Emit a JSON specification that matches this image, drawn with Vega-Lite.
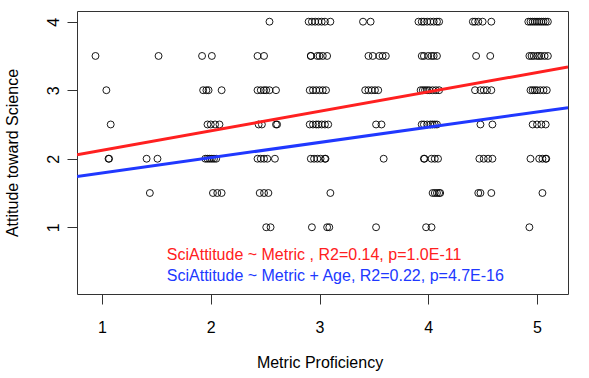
{
  "$schema": "https://vega.github.io/schema/vega-lite/v6.json",
  "width": 491,
  "height": 283,
  "autosize": {"type": "none"},
  "padding": {"left": 77, "top": 11, "right": 21, "bottom": 84},
  "background": "white",
  "config": {
    "font": "Liberation Sans",
    "view": {"stroke": "#333333", "strokeWidth": 1},
    "axis": {
      "grid": false,
      "domain": false,
      "tickColor": "#333333",
      "tickSize": 10,
      "tickWidth": 1,
      "labelFont": "Liberation Sans",
      "labelFontSize": 16,
      "labelColor": "#000000",
      "titleFont": "Liberation Sans",
      "titleFontSize": 16,
      "titleFontWeight": "normal",
      "titleColor": "#000000"
    }
  },
  "datasets": {
    "pts": [
      {"m": 2.54, "s": 4}, {"m": 2.9, "s": 4}, {"m": 2.93, "s": 4}, {"m": 2.96, "s": 4}, {"m": 2.99, "s": 4}, {"m": 3.02, "s": 4}, {"m": 3.05, "s": 4}, {"m": 3.1, "s": 4},
      {"m": 3.4, "s": 4}, {"m": 3.47, "s": 4},
      {"m": 3.91, "s": 4}, {"m": 3.94, "s": 4}, {"m": 3.96, "s": 4}, {"m": 3.99, "s": 4}, {"m": 4.02, "s": 4}, {"m": 4.05, "s": 4}, {"m": 4.08, "s": 4}, {"m": 4.1, "s": 4},
      {"m": 4.41, "s": 4}, {"m": 4.43, "s": 4}, {"m": 4.46, "s": 4}, {"m": 4.5, "s": 4}, {"m": 4.58, "s": 4},
      {"m": 4.92, "s": 4}, {"m": 4.94, "s": 4}, {"m": 4.96, "s": 4}, {"m": 4.98, "s": 4}, {"m": 5.0, "s": 4}, {"m": 5.02, "s": 4}, {"m": 5.04, "s": 4}, {"m": 5.06, "s": 4}, {"m": 5.08, "s": 4}, {"m": 5.1, "s": 4},
      {"m": 0.94, "s": 3.5}, {"m": 1.52, "s": 3.5}, {"m": 1.92, "s": 3.5}, {"m": 2.01, "s": 3.5}, {"m": 2.43, "s": 3.5}, {"m": 2.49, "s": 3.5},
      {"m": 2.92, "s": 3.5}, {"m": 2.92, "s": 3.5}, {"m": 2.98, "s": 3.5}, {"m": 3.0, "s": 3.5}, {"m": 3.03, "s": 3.5}, {"m": 3.07, "s": 3.5},
      {"m": 3.45, "s": 3.5}, {"m": 3.49, "s": 3.5}, {"m": 3.55, "s": 3.5}, {"m": 3.58, "s": 3.5}, {"m": 3.61, "s": 3.5},
      {"m": 3.94, "s": 3.5}, {"m": 3.96, "s": 3.5}, {"m": 4.0, "s": 3.5}, {"m": 4.03, "s": 3.5}, {"m": 4.05, "s": 3.5}, {"m": 4.08, "s": 3.5},
      {"m": 4.44, "s": 3.5}, {"m": 4.57, "s": 3.5},
      {"m": 4.93, "s": 3.5}, {"m": 4.95, "s": 3.5}, {"m": 4.97, "s": 3.5}, {"m": 5.0, "s": 3.5}, {"m": 5.02, "s": 3.5}, {"m": 5.04, "s": 3.5}, {"m": 5.07, "s": 3.5}, {"m": 5.1, "s": 3.5},
      {"m": 1.04, "s": 3}, {"m": 1.93, "s": 3}, {"m": 1.96, "s": 3}, {"m": 1.98, "s": 3}, {"m": 2.1, "s": 3},
      {"m": 2.43, "s": 3}, {"m": 2.46, "s": 3}, {"m": 2.49, "s": 3}, {"m": 2.51, "s": 3}, {"m": 2.54, "s": 3}, {"m": 2.6, "s": 3},
      {"m": 2.91, "s": 3}, {"m": 2.94, "s": 3}, {"m": 2.97, "s": 3}, {"m": 3.0, "s": 3}, {"m": 3.03, "s": 3}, {"m": 3.06, "s": 3},
      {"m": 3.42, "s": 3}, {"m": 3.45, "s": 3}, {"m": 3.48, "s": 3}, {"m": 3.51, "s": 3}, {"m": 3.54, "s": 3},
      {"m": 3.93, "s": 3}, {"m": 3.95, "s": 3}, {"m": 3.97, "s": 3}, {"m": 3.99, "s": 3}, {"m": 4.01, "s": 3}, {"m": 4.04, "s": 3}, {"m": 4.07, "s": 3}, {"m": 4.1, "s": 3},
      {"m": 4.43, "s": 3}, {"m": 4.48, "s": 3}, {"m": 4.51, "s": 3}, {"m": 4.54, "s": 3}, {"m": 4.58, "s": 3},
      {"m": 4.94, "s": 3}, {"m": 4.96, "s": 3}, {"m": 4.98, "s": 3}, {"m": 5.0, "s": 3}, {"m": 5.03, "s": 3}, {"m": 5.06, "s": 3}, {"m": 5.09, "s": 3},
      {"m": 1.08, "s": 2.5}, {"m": 1.97, "s": 2.5}, {"m": 2.0, "s": 2.5}, {"m": 2.04, "s": 2.5}, {"m": 2.08, "s": 2.5},
      {"m": 2.44, "s": 2.5}, {"m": 2.47, "s": 2.5}, {"m": 2.6, "s": 2.5}, {"m": 2.61, "s": 2.5},
      {"m": 2.91, "s": 2.5}, {"m": 2.94, "s": 2.5}, {"m": 2.97, "s": 2.5}, {"m": 2.99, "s": 2.5}, {"m": 3.02, "s": 2.5}, {"m": 3.05, "s": 2.5}, {"m": 3.08, "s": 2.5},
      {"m": 3.52, "s": 2.5}, {"m": 3.57, "s": 2.5},
      {"m": 3.94, "s": 2.5}, {"m": 3.96, "s": 2.5}, {"m": 3.99, "s": 2.5}, {"m": 4.02, "s": 2.5}, {"m": 4.04, "s": 2.5}, {"m": 4.06, "s": 2.5}, {"m": 4.08, "s": 2.5},
      {"m": 4.48, "s": 2.5}, {"m": 4.59, "s": 2.5},
      {"m": 4.96, "s": 2.5}, {"m": 5.0, "s": 2.5}, {"m": 5.04, "s": 2.5}, {"m": 5.08, "s": 2.5},
      {"m": 1.06, "s": 2}, {"m": 1.065, "s": 2}, {"m": 1.41, "s": 2}, {"m": 1.51, "s": 2},
      {"m": 1.95, "s": 2}, {"m": 1.97, "s": 2}, {"m": 1.99, "s": 2}, {"m": 2.01, "s": 2}, {"m": 2.03, "s": 2}, {"m": 2.05, "s": 2},
      {"m": 2.43, "s": 2}, {"m": 2.46, "s": 2}, {"m": 2.49, "s": 2}, {"m": 2.52, "s": 2}, {"m": 2.59, "s": 2},
      {"m": 2.92, "s": 2}, {"m": 2.95, "s": 2}, {"m": 2.98, "s": 2}, {"m": 3.01, "s": 2}, {"m": 3.05, "s": 2}, {"m": 3.055, "s": 2},
      {"m": 3.59, "s": 2},
      {"m": 3.96, "s": 2}, {"m": 3.965, "s": 2}, {"m": 4.03, "s": 2}, {"m": 4.06, "s": 2}, {"m": 4.09, "s": 2},
      {"m": 4.47, "s": 2}, {"m": 4.51, "s": 2}, {"m": 4.55, "s": 2}, {"m": 4.59, "s": 2},
      {"m": 4.94, "s": 2}, {"m": 5.02, "s": 2}, {"m": 5.05, "s": 2}, {"m": 5.08, "s": 2}, {"m": 5.085, "s": 2},
      {"m": 1.44, "s": 1.5}, {"m": 2.02, "s": 1.5}, {"m": 2.06, "s": 1.5}, {"m": 2.1, "s": 1.5},
      {"m": 2.45, "s": 1.5}, {"m": 2.49, "s": 1.5}, {"m": 2.53, "s": 1.5}, {"m": 3.1, "s": 1.5},
      {"m": 4.04, "s": 1.5}, {"m": 4.06, "s": 1.5}, {"m": 4.08, "s": 1.5}, {"m": 4.1, "s": 1.5}, {"m": 4.11, "s": 1.5},
      {"m": 4.46, "s": 1.5}, {"m": 4.48, "s": 1.5}, {"m": 4.58, "s": 1.5}, {"m": 5.05, "s": 1.5},
      {"m": 2.51, "s": 1}, {"m": 2.55, "s": 1}, {"m": 2.93, "s": 1}, {"m": 3.07, "s": 1}, {"m": 3.09, "s": 1},
      {"m": 3.52, "s": 1}, {"m": 3.98, "s": 1}, {"m": 4.03, "s": 1}, {"m": 4.93, "s": 1}
    ],
    "fits": [
      {"series": "m1", "m": 0.77, "s": 2.058},
      {"series": "m1", "m": 5.285, "s": 3.34},
      {"series": "m2", "m": 0.77, "s": 1.742},
      {"series": "m2", "m": 5.285, "s": 2.746}
    ],
    "notes": [
      {"series": "m1", "m": 1.596, "s": 0.523, "label": "SciAttitude ~ Metric , R2=0.14, p=1.0E-11"},
      {"series": "m2", "m": 1.596, "s": 0.22, "label": "SciAttitude ~ Metric + Age, R2=0.22, p=4.7E-16"}
    ]
  },
  "layer": [
    {
      "data": {"name": "pts"},
      "mark": {"type": "point", "shape": "circle", "filled": false, "stroke": "#000000", "strokeWidth": 0.9, "size": 48, "opacity": 1},
      "encoding": {
        "x": {
          "field": "m", "type": "quantitative",
          "scale": {"domain": [0.77, 5.285], "nice": false, "zero": false},
          "axis": {"values": [1, 2, 3, 4, 5], "format": "d", "title": "Metric Proficiency", "labelPadding": 28, "labelBaseline": "alphabetic", "titleBaseline": "alphabetic", "titleY": 73, "titleX": 242.5}
        },
        "y": {
          "field": "s", "type": "quantitative",
          "scale": {"domain": [0.026, 4.156], "nice": false, "zero": false},
          "axis": {"values": [1, 2, 3, 4], "format": "d", "title": "Attitude toward Science", "labelAngle": -90, "labelAlign": "center", "labelBaseline": "alphabetic", "labelPadding": 9, "titleAngle": -90, "titleBaseline": "alphabetic", "titleAlign": "center", "titleX": -60, "titleY": 141.5}
        }
      }
    },
    {
      "data": {"name": "fits"},
      "mark": {"type": "line", "strokeWidth": 3, "clip": true},
      "encoding": {
        "x": {"field": "m", "type": "quantitative"},
        "y": {"field": "s", "type": "quantitative"},
        "color": {"field": "series", "type": "nominal", "scale": {"domain": ["m1", "m2"], "range": ["#ff2020", "#2038ff"]}, "legend": null}
      }
    },
    {
      "data": {"name": "notes"},
      "mark": {"type": "text", "align": "left", "baseline": "alphabetic", "fontSize": 16, "font": "Liberation Sans"},
      "encoding": {
        "x": {"field": "m", "type": "quantitative"},
        "y": {"field": "s", "type": "quantitative"},
        "text": {"field": "label"},
        "color": {"field": "series", "type": "nominal", "scale": {"domain": ["m1", "m2"], "range": ["#ff2020", "#2038ff"]}, "legend": null}
      }
    }
  ]
}
